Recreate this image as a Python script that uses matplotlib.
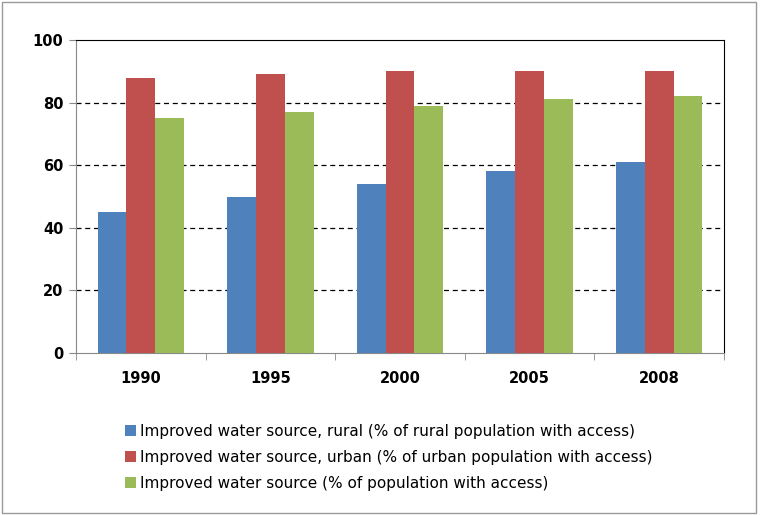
import matplotlib.pyplot as plt
import numpy as np
from matplotlib.patches import Rectangle

years = ["1990", "1995", "2000", "2005", "2008"]
rural = [45, 50, 54, 58, 61]
urban = [88, 89, 90, 90, 90]
total = [75, 77, 79, 81, 82]
labels = [
    "Improved water source, rural (% of rural population with access)",
    "Improved water source, urban (% of urban population with access)",
    "Improved water source (% of population with access)",
]
colors = ["#4F81BD", "#C0504D", "#9BBB59"]

fig = plt.figure(figsize=(7.66, 5.15), dpi=100)
ax = fig.add_axes([76 / 766, 1 - 353 / 515, (724 - 76) / 766, (353 - 40) / 515])

x = np.arange(len(years))
w = 0.222
for i, (vals, c, lab) in enumerate(zip([rural, urban, total], colors, labels)):
    ax.bar(x + (i - 1) * w, vals, w, color=c, label=lab, zorder=3)

ax.set_xlim(-0.5, len(years) - 0.5)
ax.set_ylim(0, 100)
ax.set_yticks([0, 20, 40, 60, 80, 100])
ax.set_xticks(x)
ax.set_xticklabels(years, fontsize=10.5, fontweight="bold")
for t in ax.get_yticklabels():
    t.set_fontsize(10.5)
    t.set_fontweight("bold")
ax.set_xticks(np.arange(-0.5, len(years)), minor=True)
ax.tick_params(axis="x", which="major", length=0, pad=13)
ax.tick_params(axis="x", which="minor", length=5, direction="out", color="#888888")
ax.tick_params(axis="y", length=5, direction="out", color="#888888", pad=4)
for yv in [20, 40, 60, 80]:
    ax.axhline(yv, color="black", linestyle=(0, (4, 3)), linewidth=0.9, zorder=1)
ax.spines["left"].set_color("#888888")
ax.spines["bottom"].set_color("#888888")
ax.spines["top"].set_color("black")
ax.spines["right"].set_color("black")

fig.legend(loc="upper left", bbox_to_anchor=(119 / 766, 1 - 418 / 515),
           frameon=False, fontsize=11.0, handlelength=0.7, handleheight=0.7,
           handletextpad=0.3, labelspacing=0.72, borderaxespad=0)

fig.patches.append(Rectangle((2 / 766, 2 / 515), 754 / 766, 511 / 515,
                             transform=fig.transFigure, fill=False,
                             edgecolor="#999999", linewidth=1))

plt.savefig("out.png", dpi=100)
